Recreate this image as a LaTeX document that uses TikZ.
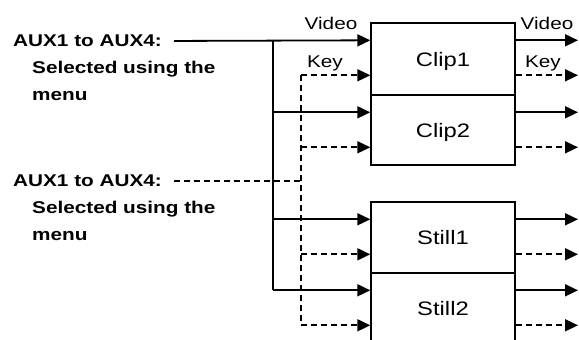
\documentclass[tikz,border=0pt]{standalone}
\usepackage{fontspec}
\setmainfont{Liberation Sans}[FakeStretch=1.22]
\usetikzlibrary{arrows.meta,calc}

\begin{document}
\begin{tikzpicture}[x=1pt,y=-1pt]
\tikzset{
    unit/.style={draw, line width=1.4pt, minimum width=144pt, inner sep=0pt, text depth=0pt, font=\fontsize{19.5}{21}\selectfont},
    wire/.style={line width=1.8pt},
    keywire/.style={wire, dash pattern=on 6pt off 4pt},
    sig/.style={wire, -{Triangle[length=13pt,width=12pt]}},
    keysig/.style={keywire, -{Triangle[length=13pt,width=12pt]}},
    lbl/.style={inner sep=0pt, font=\fontsize{17}{19}\selectfont},
    aux/.style={inner sep=0pt, align=left, font=\bfseries\fontsize{17}{26.5}\selectfont}
}
\useasboundingbox (0,0) rectangle (579,340);

% --- units ---
\node[unit, minimum height=72pt] (clip1) at (443,59) {Clip1};
\node[unit, minimum height=70pt] (clip2) at (443,130) {Clip2};
\node[unit, minimum height=71pt] (still1) at (443,237.5) {Still1};
\node[unit, minimum height=71pt] (still2) at (443,308.5) {Still2};

% --- left texts ---
\node[aux, anchor=west] (aux1) at (13,41) {AUX1 to AUX4:};
\node[aux, anchor=north west] (note1) at (32,61) {Selected using the\\menu};
\node[aux, anchor=west] (aux2) at (13,181) {AUX1 to AUX4:};
\node[aux, anchor=north west] (note2) at (32,201) {Selected using the\\menu};

% --- signal labels ---
\node[lbl] (vidin) at (331,23) {Video};
\node[lbl] (keyin) at (325,63) {Key};
\node[lbl] (vidout) at (547,23) {Video};
\node[lbl] (keyout) at (543,63) {Key};

% --- bus positions ---
\coordinate (vbus) at (273,0);
\coordinate (kbus) at (301,0);
\coordinate (outx) at (578,0);
\foreach \b in {clip1,clip2,still1,still2} {
    \coordinate (\b-v) at ($(\b.north west)+(0,18)$);
    \coordinate (\b-k) at ($(\b.north west)+(0,53)$);
}

% --- video inputs ---
\draw[sig, shorten <=12pt] (aux1.east) -- (clip1-v);
\draw[wire] (vbus |- clip1-v) -- (vbus |- still2-v);
\foreach \b in {clip2,still1,still2}
    \draw[sig] (vbus |- \b-v) -- (\b-v);

% --- key inputs ---
\draw[keywire, shorten <=12pt] (aux2.east) -- (kbus |- aux2.east);
\draw[keywire] (kbus |- clip1-k) -- (kbus |- still2-k);
\foreach \b in {clip1,clip2,still1,still2}
    \draw[keysig] (kbus |- \b-k) -- (\b-k);

% --- outputs ---
\foreach \b in {clip1,clip2,still1,still2} {
    \draw[sig] (\b-v -| \b.east) -- (outx |- \b-v);
    \draw[keysig] (\b-k -| \b.east) -- (outx |- \b-k);
}
\end{tikzpicture}
\end{document}
